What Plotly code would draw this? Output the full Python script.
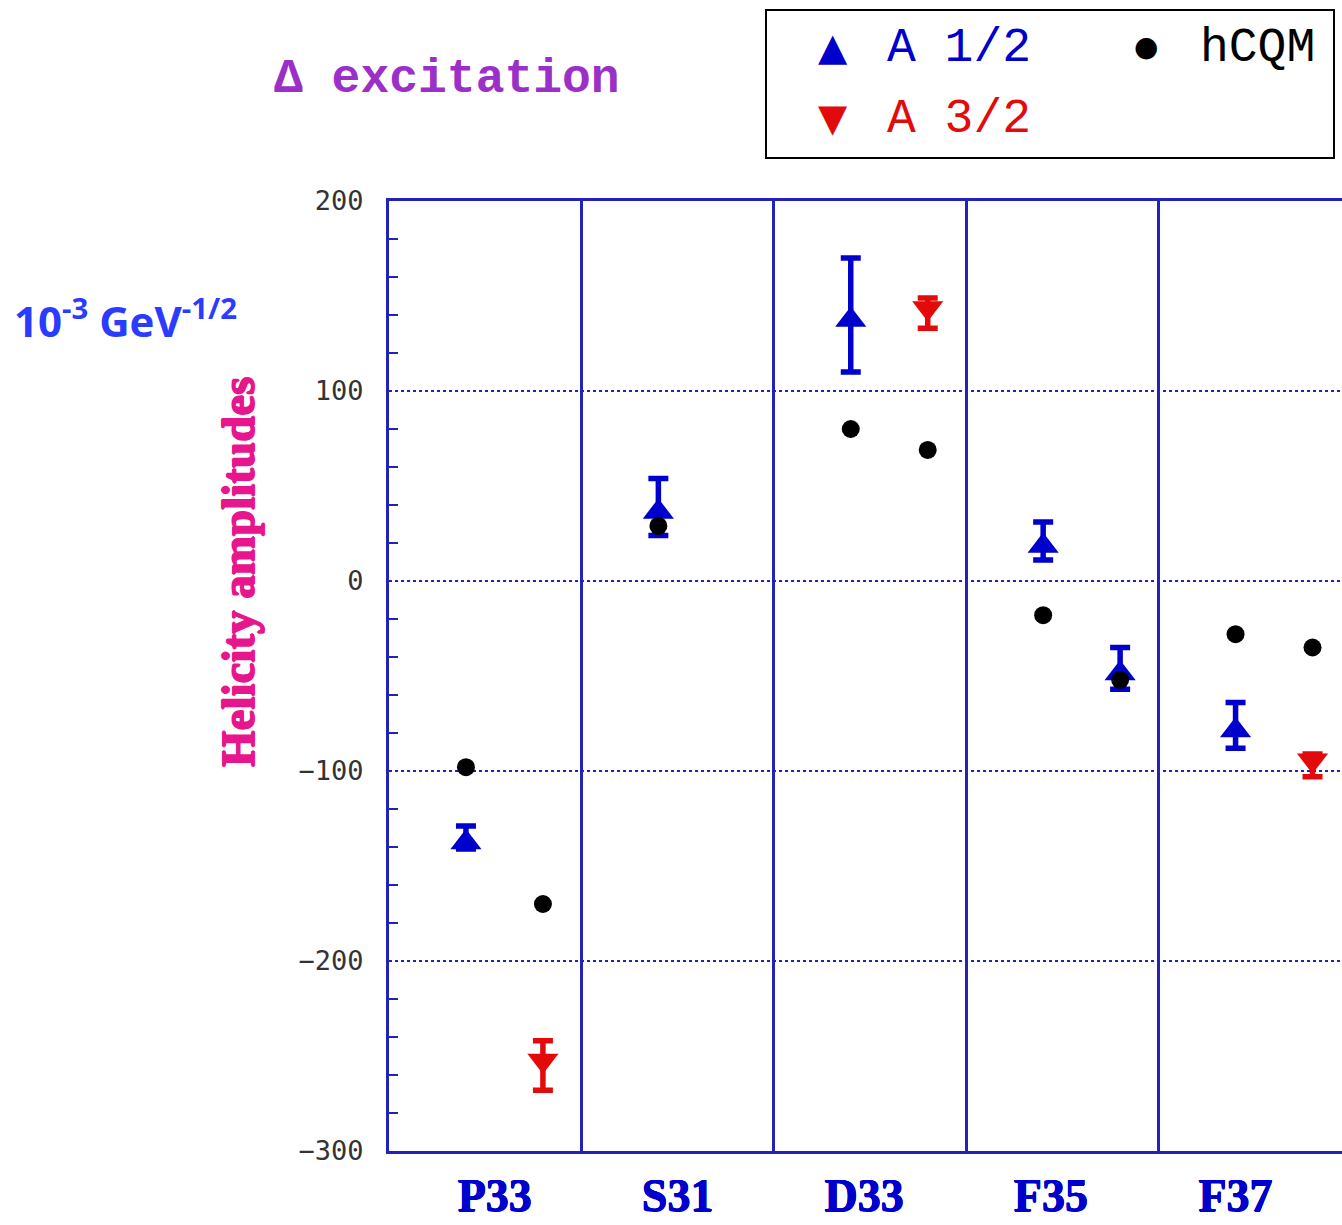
import plotly.graph_objects as go

# Resonances (one column each) and where their names sit under the axis
resonances = ["P33", "S31", "D33", "F35", "F37"]
label_pos = [0.55, 1.5, 2.47, 3.44, 4.4]
column_edges = [1, 2, 3, 4]

# Measured helicity amplitudes A1/2 (10^-3 GeV^-1/2)
a12_x = [0.4, 1.4, 2.4, 3.4, 3.8, 4.4]
a12_val = [-135, 39, 140, 21, -46, -76]
a12_err = [6, 15, 30, 10, 11, 12]

# Measured helicity amplitudes A3/2
a32_x = [0.8, 2.8, 4.8]
a32_val = [-255, 141, -97]
a32_err = [13, 8, 6]

# hypercentral constituent quark model predictions
hcqm_x = [0.4, 0.8, 1.4, 2.4, 2.8, 3.4, 3.8, 4.4, 4.8]
hcqm_val = [-98, -170, 29, 80, 69, -18, -52, -28, -35]

W, H = 1342, 1225
ML, MR, MT, MB = 389, 0, 201, 74
PW, PH = W - ML - MR, H - MT - MB
COL_PX = 192.4


def fx(px):
    return (px - ML) / PW


def fy(py):
    return (H - MB - py) / PH


def heavy(color, r=0.6):
    # thicken glyph strokes with a thin text-shadow ring
    return (f"{r}px 0 0 {color}, -{r}px 0 0 {color}, "
            f"0 {r}px 0 {color}, 0 -{r}px 0 {color}")


AXIS_BLUE = "#2222b8"
BLUE = "#0000cc"
RED = "#e20a0a"
PINK = "#e8168c"

fig = go.Figure()

fig.add_trace(go.Scatter(
    x=a12_x, y=a12_val, mode="markers", name="A 1/2",
    marker=dict(symbol="triangle-up", size=27, color=BLUE, standoff=5),
    error_y=dict(type="data", array=a12_err, color=BLUE, thickness=5.5, width=10),
))
fig.add_trace(go.Scatter(
    x=a32_x, y=a32_val, mode="markers", name="A 3/2",
    marker=dict(symbol="triangle-up", angle=180, size=27, color=RED, standoff=5),
    error_y=dict(type="data", array=a32_err, color=RED, thickness=5.5, width=10),
))
fig.add_trace(go.Scatter(
    x=hcqm_x, y=hcqm_val, mode="markers", name="hCQM",
    marker=dict(symbol="circle", size=18, color="black"),
))

fig.update_xaxes(
    range=[0, PW / COL_PX], automargin=False,
    tickmode="array", tickvals=label_pos, ticktext=resonances,
    ticks="", showgrid=False, zeroline=False,
    showline=True, mirror=True, linecolor=AXIS_BLUE, linewidth=3,
    tickfont=dict(family="Liberation Serif", size=46, color=BLUE, weight="bold",
                  shadow=heavy(BLUE, 0.5)),
    ticklabelstandoff=2,
    minor=dict(tickmode="array", tickvals=column_edges, showgrid=True,
               gridcolor=AXIS_BLUE, gridwidth=2.5, ticks=""),
)

fig.update_yaxes(
    range=[-300, 200], automargin=False, tickmode="linear", tick0=0, dtick=100,
    ticks="", showgrid=True, gridcolor=AXIS_BLUE, gridwidth=2, griddash="dot",
    zeroline=False, showline=True, mirror=False, linecolor=AXIS_BLUE, linewidth=3,
    tickfont=dict(family="DejaVu Sans Mono", size=27, color="#333333"),
    ticklabelstandoff=17,
    minor=dict(dtick=20, ticks="inside", ticklen=9, tickwidth=2,
               tickcolor=AXIS_BLUE, showgrid=False),
)

annotations = [
    # plot title
    dict(text="<b>Δ excitation</b>", x=fx(272), y=fy(79), xanchor="left", yanchor="middle",
         font=dict(family="Liberation Mono", size=48, color="#9b30c8")),
    # unit
    dict(text="<b>10<sup>-3</sup> GeV<sup>-1/2</sup></b>", x=fx(12), y=fy(318),
         xanchor="left", yanchor="middle",
         font=dict(family="Open Sans", size=42, color="#2a3cff")),
    # y axis title
    dict(text="<b>Helicity amplitudes</b>", x=fx(238), y=fy(572), textangle=-90,
         xanchor="center", yanchor="middle",
         font=dict(family="Liberation Serif", size=47, color=PINK,
                   shadow=heavy(PINK, 0.8))),
    # legend entries
    dict(text="▲", x=fx(833), y=fy(47), xanchor="center", yanchor="middle",
         font=dict(family="DejaVu Sans", size=38, color=BLUE)),
    dict(text="A 1/2", x=fx(885), y=fy(48), xanchor="left", yanchor="middle",
         font=dict(family="Liberation Mono", size=48, color=BLUE)),
    dict(text="▼", x=fx(833), y=fy(118), xanchor="center", yanchor="middle",
         font=dict(family="DejaVu Sans", size=38, color=RED)),
    dict(text="A 3/2", x=fx(885), y=fy(119), xanchor="left", yanchor="middle",
         font=dict(family="Liberation Mono", size=48, color=RED)),
    dict(text="●", x=fx(1146), y=fy(47), xanchor="center", yanchor="middle",
         font=dict(family="DejaVu Sans", size=28, color="black")),
    dict(text="hCQM", x=fx(1198), y=fy(48), xanchor="left", yanchor="middle",
         font=dict(family="Liberation Mono", size=48, color="black")),
]
for a in annotations:
    a.update(xref="paper", yref="paper", showarrow=False)

fig.update_layout(
    width=W, height=H,
    margin=dict(l=ML, r=MR, t=MT, b=MB),
    paper_bgcolor="white", plot_bgcolor="white",
    showlegend=False,
    annotations=annotations,
    shapes=[dict(type="rect", xref="paper", yref="paper",
                 x0=fx(766), x1=fx(1334), y0=fy(158), y1=fy(10),
                 line=dict(color="black", width=2))],
)

fig.write_html("out.html")
